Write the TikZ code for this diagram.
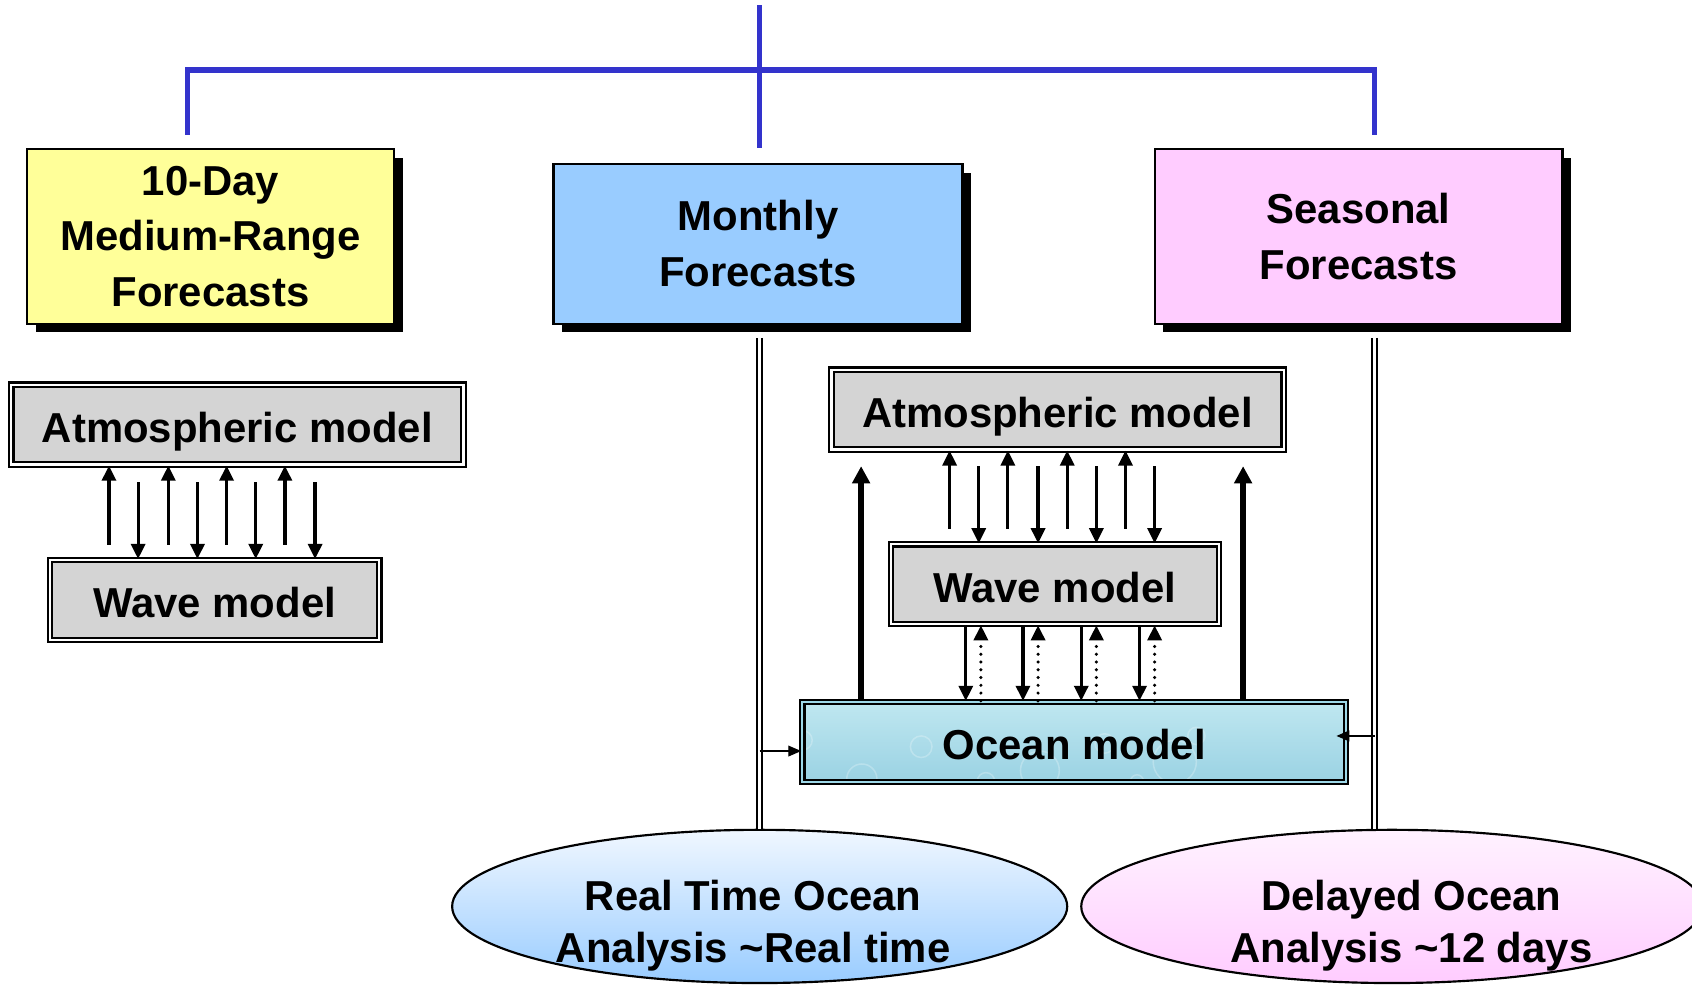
\documentclass[tikz,border=0pt]{standalone}
\usepackage{fontspec}
\setmainfont{Liberation Sans}
\usetikzlibrary{arrows.meta,shapes.geometric,shadows}
\definecolor{treeblue}{HTML}{3333CC}
\definecolor{yellowbox}{HTML}{FFFF99}
\definecolor{bluebox}{HTML}{99CCFF}
\definecolor{pinkbox}{HTML}{FFCCFF}
\definecolor{modelgray}{HTML}{D4D4D4}
\definecolor{oceanA}{HTML}{BFE7F0}
\definecolor{oceanB}{HTML}{9AD2E3}
\definecolor{oceanrim}{HTML}{9ED8E8}
\definecolor{ellBtop}{HTML}{F0F7FF}
\definecolor{ellPtop}{HTML}{FFF2FF}
\begin{document}
\begin{tikzpicture}[x=0.5pt,y=-0.5pt,
  bigfont/.style={font=\bfseries\fontsize{19.4}{25.8}\selectfont},
  fcbox/.style={bigfont, draw=black, line width=1pt, align=center, inner sep=0pt,
    drop shadow={shadow xshift=4pt, shadow yshift=-4pt, fill=black, opacity=1}},
  modelbox/.style={bigfont, draw=black, line width=1pt, double=white, double distance=1pt,
    fill=modelgray, inner sep=0pt, minimum height=37pt, text height=16.5pt, text depth=0pt},
  anaell/.style={ellipse, draw=black, line width=1pt, minimum width=285pt, minimum height=71pt, inner sep=0pt},
  anatext/.style={font=\bfseries\fontsize{19.4}{24}\selectfont, align=center},
  tree/.style={draw=treeblue, line width=2.5pt},
  dbl/.style={draw=black, line width=0.9pt, double=white, double distance=1.6pt},
  thinarr/.style={draw=black, line width=1.5pt, -{Triangle[length=7pt,width=6.5pt]}},
  thickarr/.style={draw=black, line width=2.6pt, -{Triangle[length=8pt,width=8pt]}},
  dotarr/.style={draw=black, line width=1.6pt, line cap=round, dash pattern=on 0pt off 3.6pt,
    -{Triangle[length=7pt,width=6.5pt]}},
  smallarr/.style={draw=black, line width=0.6pt, -{Triangle[length=6pt,width=5pt]}}
]
\useasboundingbox (0,0) rectangle (1568,914);

% top tree
\coordinate (top) at (704,5);
\coordinate (dm) at (704,137);
\coordinate (tl) at (174,65);
\coordinate (tr) at (1274,65);
\coordinate (dl) at (174,125);
\coordinate (dr) at (1274,125);
\draw[tree] (top) -- (dm);
\draw[tree] (dl) -- (tl) -- (tr) -- (dr);

% forecast boxes
\node[fcbox, fill=yellowbox, minimum width=170pt, minimum height=81pt] (ten) at (195,219)
  {10-Day\\Medium-Range\\Forecasts};
\node[fcbox, fill=bluebox, minimum width=189.5pt, minimum height=74pt] (mon) at (702.5,226)
  {Monthly\\Forecasts};
\node[fcbox, fill=pinkbox, minimum width=189pt, minimum height=81pt] (sea) at (1259,219)
  {Seasonal\\Forecasts};

% left models
\node[modelbox, minimum width=209.5pt] (atmL) at (220,393.5) {Atmospheric model};
\node[modelbox, minimum width=152.5pt] (wavL) at (199,556) {Wave model};
\foreach \x in {101,156,210,264}
  \draw[thinarr] (\x,505) -- (atmL.south -| \x,0);
\foreach \x in {128,183,237,292}
  \draw[thinarr] (\x,447) -- (wavL.north -| \x,0);

% right models
\node[modelbox, minimum width=209.5pt] (atmR) at (980,379.5) {Atmospheric model};
\node[modelbox, minimum width=152pt] (wavR) at (977.5,541.5) {Wave model};
\node[modelbox, double=oceanrim, top color=oceanA, bottom color=oceanB, minimum width=252pt,
  path picture={
    \begin{scope}[shift={(path picture bounding box.center)}]
      \foreach \px/\py/\pr in {-225/-5/12, -190/15/16, -130/-18/9, -75/18/14, -20/-12/10,
        40/20/8, 90/10/18, 150/-15/9, 215/2/20, 235/-22/8, -150/22/7, 180/20/6}
        \draw[white, opacity=0.25, line width=0.7pt] (\px,\py) circle[radius=\pr];
    \end{scope}}] (ocean) at (995.5,687.5) {Ocean model};

\foreach \x in {880,934,989,1043}
  \draw[thinarr] (\x,490) -- (atmR.south -| \x,0);
\foreach \x in {907,962,1016,1070}
  \draw[thinarr] (\x,432) -- (wavR.north -| \x,0);
\foreach \x in {798,1152}
  \draw[thickarr] (ocean.north -| \x,0) -- (\x,432);
\foreach \x in {895,948,1002,1056}
  \draw[thinarr] (wavR.south -| \x,0) -- (ocean.north -| \x,0);
\foreach \x in {909,962,1016,1070}
  \draw[dotarr] (ocean.north -| \x,0) -- (wavR.south -| \x,0);

% analysis ellipses
\node[anaell, top color=ellBtop, bottom color=bluebox] (lell) at (704,840) {};
\node[anaell, minimum width=288pt, top color=ellPtop, bottom color=pinkbox] (rell) at (1290,840) {};
\node[anatext] (ltxt) at (698,858) {Real Time Ocean\\Analysis \textasciitilde Real time};
\node[anatext] (rtxt) at (1308,858) {Delayed Ocean\\Analysis \textasciitilde 12 days};

% double vertical lines
\coordinate (vl) at (704,313);
\coordinate (vr) at (1274,313);
\draw[dbl] (vl) -- (vl |- lell.north);
\draw[dbl] (vr) -- (vr |- rell.north);

% feed arrows into ocean model
\coordinate (la) at (704,696);
\coordinate (ra) at (1274,682);
\draw[smallarr] (la) -- (la -| ocean.west);
\draw[smallarr, shorten >=-5pt] (ra) -- (ra -| ocean.east);
\end{tikzpicture}
\end{document}
